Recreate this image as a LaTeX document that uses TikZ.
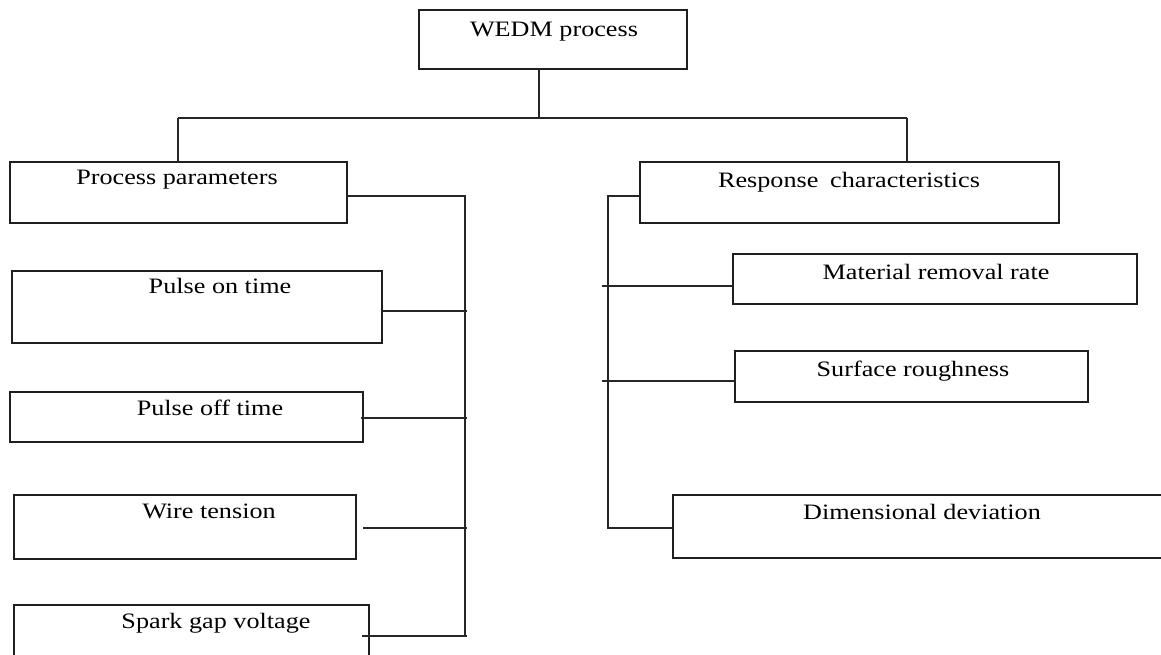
\documentclass[tikz,border=0pt]{standalone}
\usepackage{fontspec}
\setmainfont{Liberation Serif}
\usetikzlibrary{calc}
\newcommand\wtxt[1]{\scalebox{1.19}[1]{#1}}
\begin{document}
\begin{tikzpicture}[x=1pt,y=-1pt,
  box/.style={draw=black!88, line width=1.5pt, anchor=north west, inner sep=0pt, outer sep=0pt},
  lbl/.style={anchor=base, inner sep=0pt, text=black, font=\fontsize{22}{26}\selectfont},
  conn/.style={draw=black!85, line width=1.5pt}]
\clip (0,0) rectangle (1161,655);
% boxes
\node[box, minimum width=268pt, minimum height=59pt] (wedm) at (419,10) {};
\node[box, minimum width=337pt, minimum height=61pt] (pp) at (10,162) {};
\node[box, minimum width=419pt, minimum height=61pt] (rc) at (640,162) {};
\node[box, minimum width=370pt, minimum height=72pt] (pon) at (12,271) {};
\node[box, minimum width=353pt, minimum height=50pt] (poff) at (10,392) {};
\node[box, minimum width=342pt, minimum height=64pt] (wt) at (14,495) {};
\node[box, minimum width=355pt, minimum height=80pt] (sgv) at (14,605) {};
\node[box, minimum width=404pt, minimum height=50pt] (mrr) at (733,254) {};
\node[box, minimum width=353pt, minimum height=51pt] (sr) at (735,351) {};
\node[box, minimum width=520pt, minimum height=63pt] (dd) at (673,495) {};
% labels
\node[lbl] (twedm) at (554,37) {\wtxt{WEDM process}};
\node[lbl] (tpp) at (177,185) {\wtxt{Process parameters}};
\node[lbl] (trc) at (849,187) {\wtxt{Response\hspace{0.2em} characteristics}};
\node[lbl] (tpon) at (220,293) {\wtxt{Pulse on time}};
\node[lbl] (tpoff) at (210,415) {\wtxt{Pulse off time}};
\node[lbl] (twt) at (209,518) {\wtxt{Wire tension}};
\node[lbl] (tsgv) at (216,628) {\wtxt{Spark gap voltage}};
\node[lbl] (tmrr) at (936,279) {\wtxt{Material removal rate}};
\node[lbl] (tsr) at (913,376) {\wtxt{Surface roughness}};
\node[lbl] (tdd) at (922,519) {\wtxt{Dimensional deviation}};
% top tree
\coordinate (top) at (539,118);
\coordinate (topL) at (178,118);
\coordinate (topR) at (907,118);
\draw[conn] (wedm.south -| top) -- (top);
\draw[conn] (topL) -- (topR);
\draw[conn] (topL) -- (topL |- pp.north);
\draw[conn] (topR) -- (topR |- rc.north);
% left bus
\coordinate (lb1) at (465,196);
\coordinate (lb2) at (465,636);
\draw[conn] (pp.north east |- lb1) -- (lb1) -- (lb2);
\coordinate (a1) at (467,311);
\coordinate (a2) at (467,418);
\coordinate (a3) at (467,528);
\coordinate (a4) at (467,636);
\draw[conn] (pon.east |- a1) -- (a1);
\draw[conn] ($(poff.east |- a2)+(-2,0)$) -- (a2);
\draw[conn] ($(wt.east |- a3)+(7,0)$) -- (a3);
\draw[conn] ($(sgv.east |- a4)+(-7,0)$) -- (a4);
% right bus
\coordinate (rb1) at (608,196);
\coordinate (rb2) at (608,528);
\draw[conn] (rc.north west |- rb1) -- (rb1) -- (rb2) -- (dd.west |- rb2);
\coordinate (b1) at (602,286);
\coordinate (b2) at (602,381);
\draw[conn] (b1) -- (mrr.west |- b1);
\draw[conn] (b2) -- (sr.west |- b2);
\end{tikzpicture}
\end{document}
